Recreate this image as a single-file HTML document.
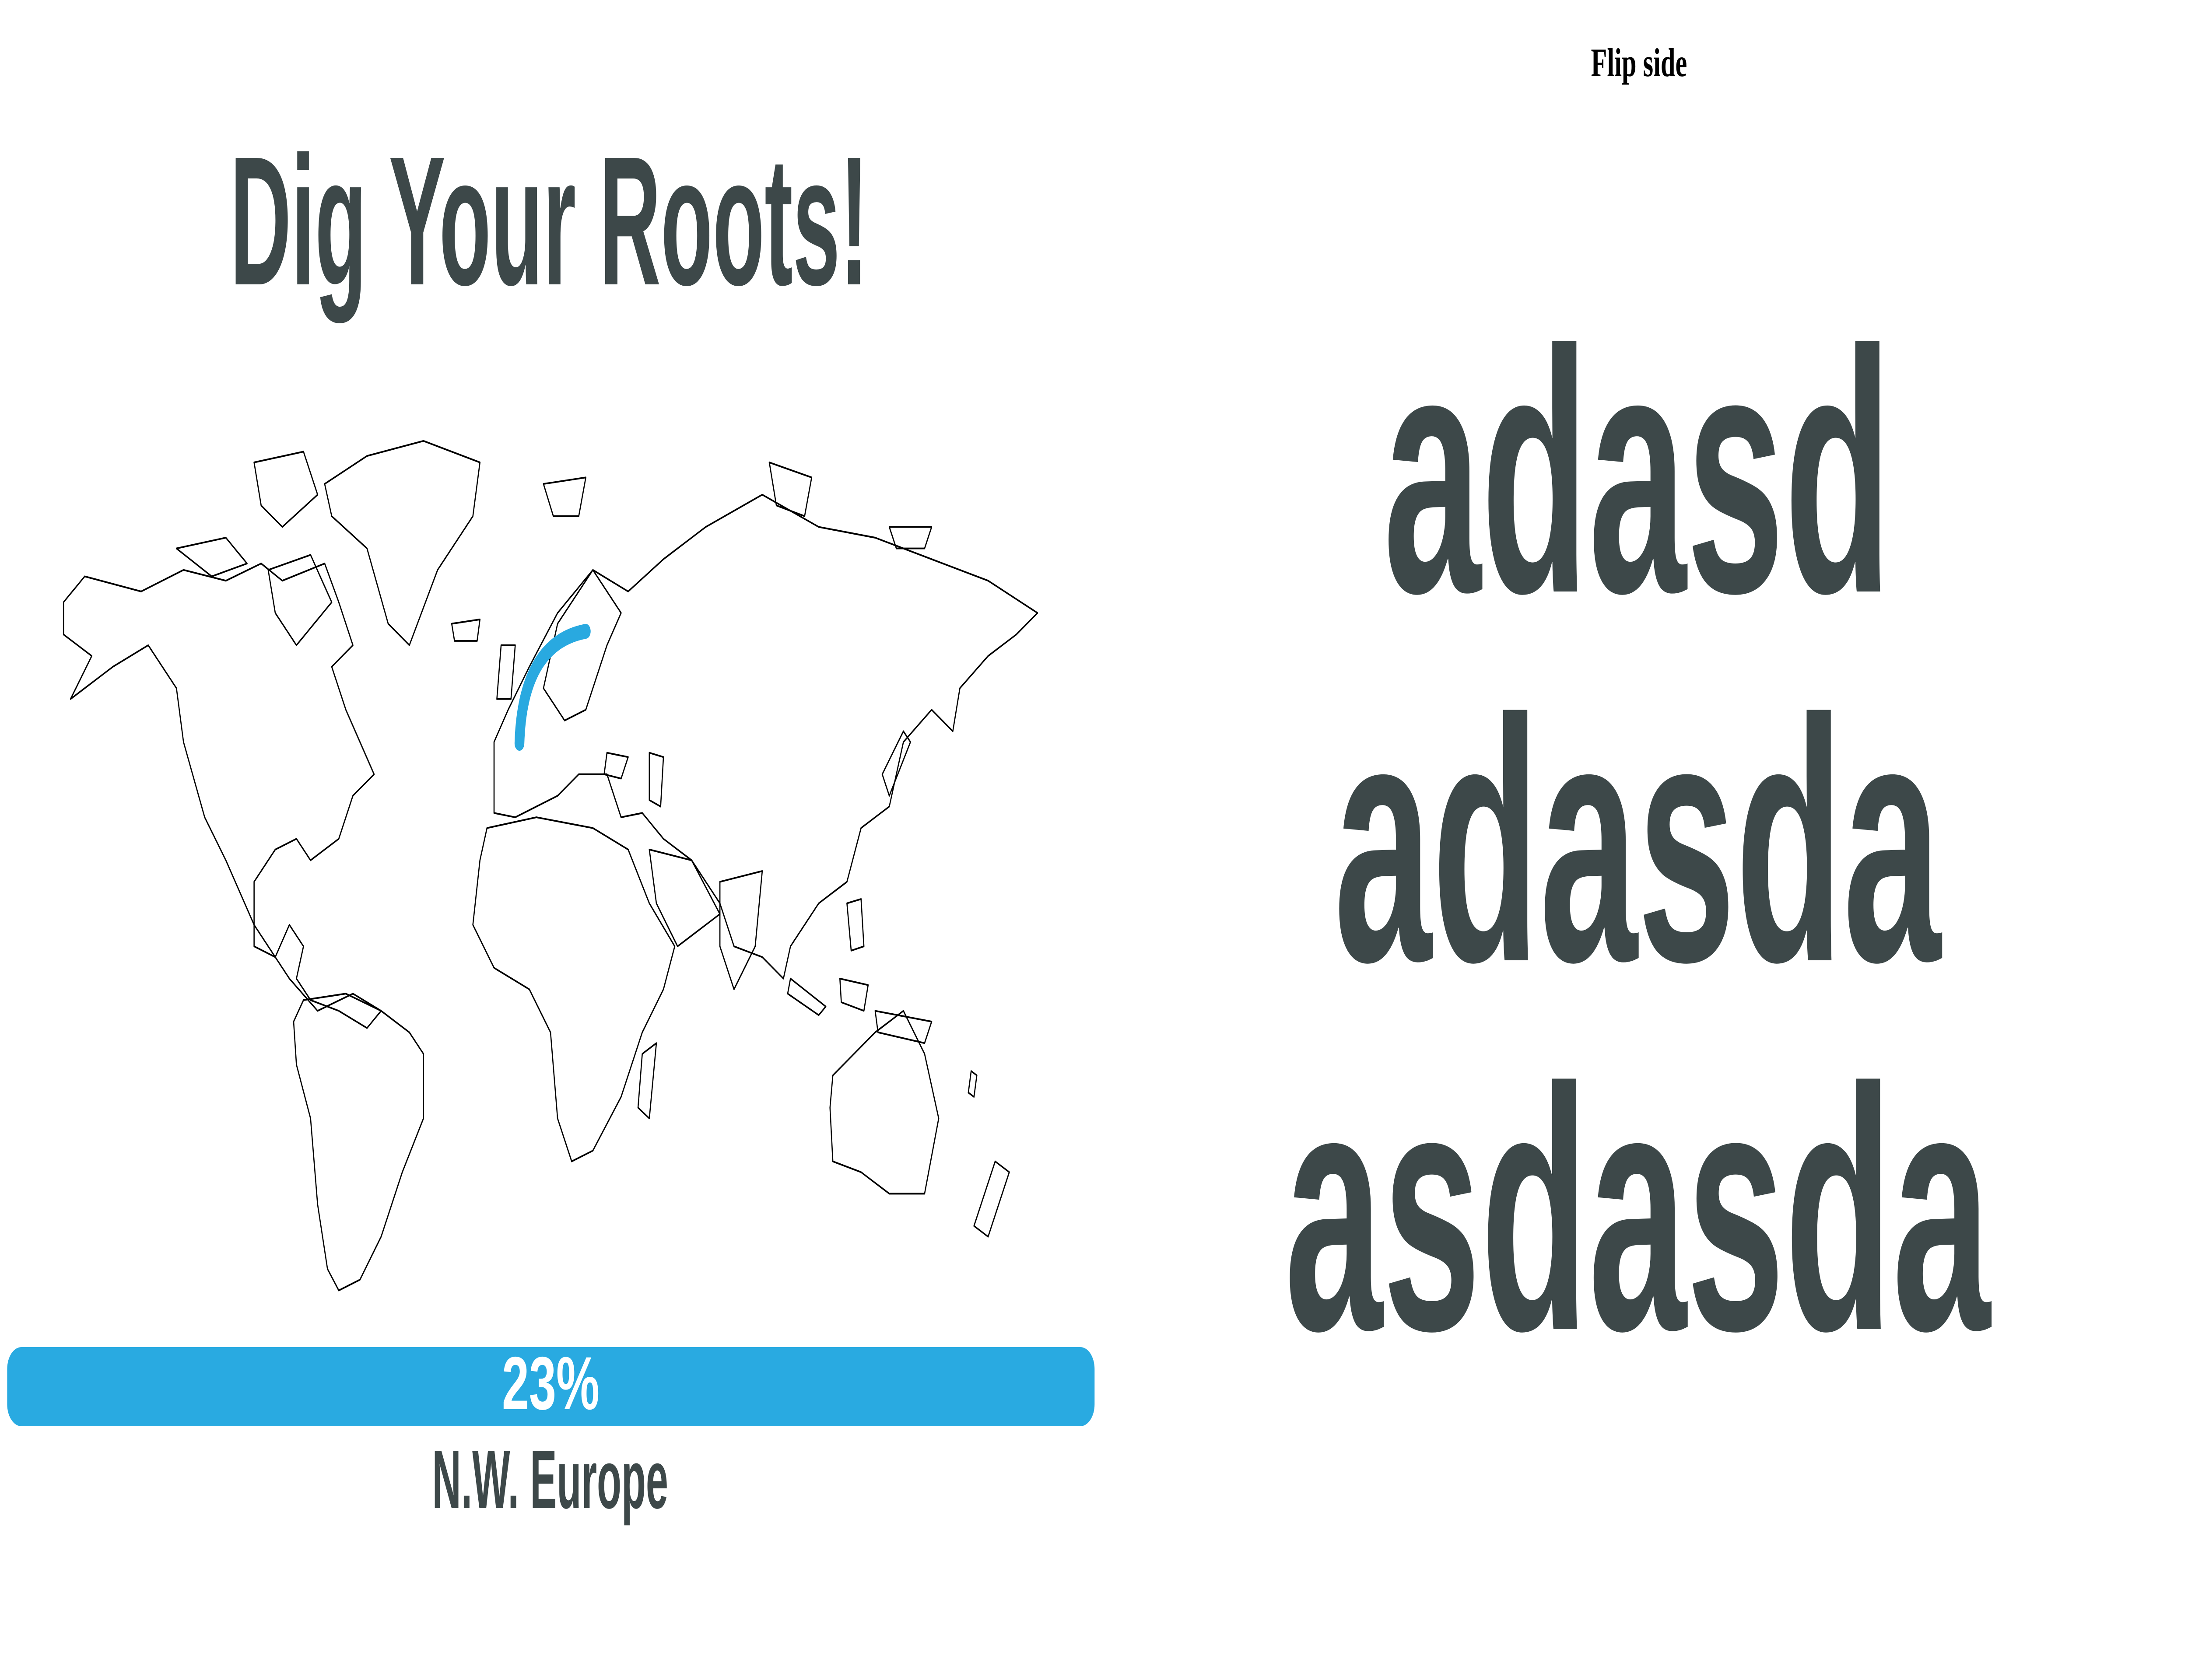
<!DOCTYPE html>
<html><head><meta charset="utf-8"><style>
html,body{margin:0;padding:0;background:#fff;width:100vw;height:100vh;overflow:hidden}
svg{display:block;width:100vw;height:100vh;overflow:hidden}
</style></head><body>
<svg viewBox="0 0 7620 3840" preserveAspectRatio="none" xmlns="http://www.w3.org/2000/svg">
<defs><clipPath id="frame"><rect x="0" y="0" width="7620" height="3840"/></clipPath></defs>
<g clip-path="url(#frame)">
<text x="5708" y="174" text-anchor="middle" font-family="Liberation Serif, serif" font-weight="bold" font-size="92" fill="#000">Flip side</text>
<text x="801" y="650" textLength="2223" lengthAdjust="spacingAndGlyphs" font-family="Liberation Sans, sans-serif" font-weight="bold" font-size="420" fill="#3d4849">Dig Your Roots!</text>
<g transform="scale(4.916)" fill="none" stroke="#000" stroke-width="0.8" stroke-linejoin="round">
<path d="M45,280 L60,268 100,275 130,265 160,270 185,262 200,270 230,262 240,280 250,300 235,310 245,330 255,345 265,360 250,370 240,390 220,400 210,390 195,395 180,410 180,440 195,445 205,430 215,440 210,455 220,465 240,470 260,478 270,470 250,462 225,470 205,455 180,430 160,400 145,380 130,345 125,320 105,300 80,310 60,320 50,325 65,305 45,295Z"/>
<path d="M230,225 L260,212 300,205 340,215 335,240 310,265 290,300 275,290 260,255 235,240Z"/>
<path d="M180,215 L215,210 225,230 200,245 185,235Z M125,255 L160,250 175,262 150,268Z M190,265 L220,258 235,280 210,300 195,285Z M385,225 L415,222 410,240 392,240Z M545,215 L575,222 570,240 550,235Z M630,245 L660,245 655,255 635,255Z"/>
<path d="M215,465 L245,462 270,470 290,480 300,490 300,520 285,545 270,575 255,595 240,600 232,590 225,560 220,520 210,495 208,475Z"/>
<path d="M350,345 L360,330 375,310 395,285 420,265 445,275 470,260 500,245 540,230 580,245 620,250 660,260 700,270 735,285 720,295 700,305 680,320 675,340 660,330 640,345 630,375 610,385 600,410 580,420 560,440 555,455 540,445 520,440 510,420 490,400 470,390 455,378 440,380 430,360 410,360 395,370 380,375 365,380 350,378 350,360Z"/>
<path d="M385,320 L395,290 420,265 440,285 430,300 415,330 400,335Z"/>
<path d="M345,385 L380,380 420,385 445,395 460,420 478,440 470,460 455,480 440,510 420,535 405,540 395,520 390,480 375,460 350,450 335,430 340,400Z"/>
<path d="M460,395 L490,400 510,425 480,440 465,420Z"/>
<path d="M510,410 L540,405 535,440 520,460 510,440Z"/>
<path d="M455,490 L465,485 460,520 452,515Z"/>
<path d="M590,500 L620,480 640,470 655,490 665,520 655,555 630,555 610,545 590,540 588,515Z"/>
<path d="M705,540 L715,545 700,575 690,570Z M688,498 L692,500 690,510 686,508Z"/>
<path d="M560,455 L585,468 580,472 558,462Z M595,455 L615,458 612,470 596,466Z M620,470 L660,475 655,485 622,480Z M600,420 L610,418 612,440 603,442Z M625,360 L640,340 645,345 630,370Z M355,300 L365,300 362,325 352,325Z M320,290 L340,288 338,298 322,298Z M430,350 L445,352 440,362 428,360Z M460,350 L470,352 468,375 460,372Z"/>
</g>
<path d="M1809,1699 Q1820,1470 2040,1443" fill="none" stroke="#29a9e0" stroke-width="34" stroke-linecap="round"/>
<rect x="25" y="3079" width="3787" height="181" rx="50" ry="50" fill="#29aae1"/>
<text x="1918" y="3221" text-anchor="middle" textLength="340" lengthAdjust="spacingAndGlyphs" font-family="Liberation Sans, sans-serif" font-weight="bold" font-size="172" fill="#fff">23%</text>
<text x="1505" y="3447" textLength="822" lengthAdjust="spacingAndGlyphs" font-family="Liberation Sans, sans-serif" font-weight="bold" font-size="190" fill="#3d4849">N.W. Europe</text>
<text x="4818" y="1352" textLength="1770" lengthAdjust="spacingAndGlyphs" font-family="Liberation Sans, sans-serif" font-weight="bold" font-size="790" fill="#3d4849">adasd</text>
<text x="4646" y="2195" textLength="2114" lengthAdjust="spacingAndGlyphs" font-family="Liberation Sans, sans-serif" font-weight="bold" font-size="790" fill="#3d4849">adasda</text>
<text x="4474" y="3038" textLength="2458" lengthAdjust="spacingAndGlyphs" font-family="Liberation Sans, sans-serif" font-weight="bold" font-size="790" fill="#3d4849">asdasda</text>
</g>
</svg>
</body></html>
